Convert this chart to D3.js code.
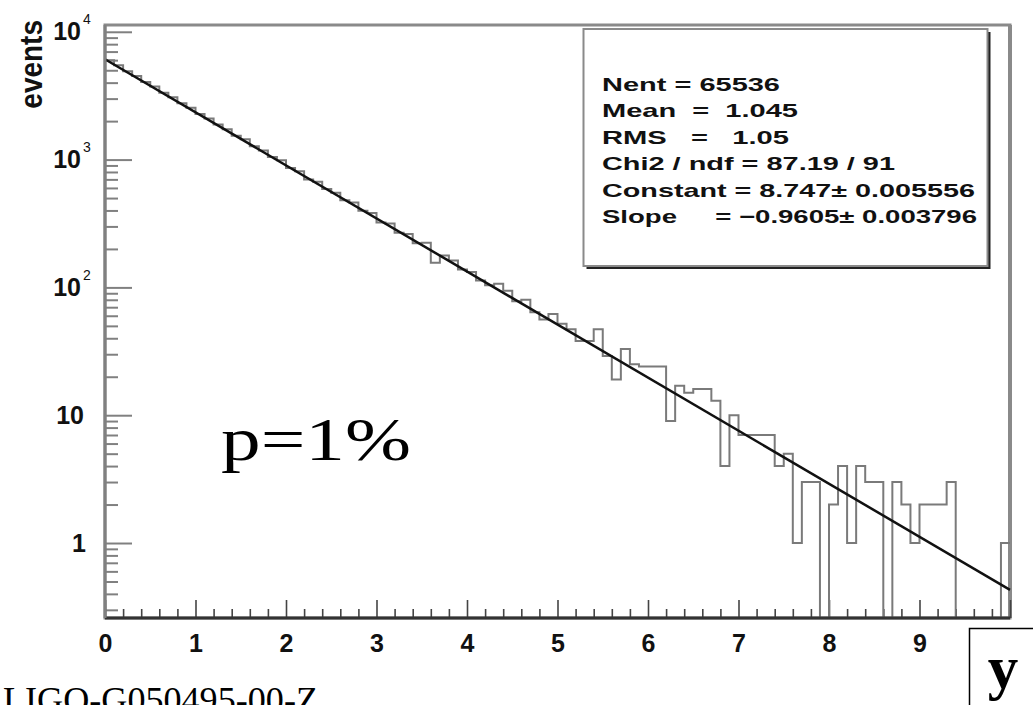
<!DOCTYPE html>
<html>
<head>
<meta charset="utf-8">
<script src="https://cdn.jsdelivr.net/npm/d3@7"></script>
<style>
  html, body { margin: 0; padding: 0; background: #fff; overflow: hidden; }
  svg { display: block; }
  text { white-space: pre; }
</style>
</head>
<body>
<svg id="chart" width="1033" height="705"></svg>
<script>

// histogram: 100 bins of width 0.1 between 0 and 10
var binWidth = 0.1
var counts = [
  5980, 5470, 4920, 4510, 4050, 3730, 3340, 3080, 2760, 2540,
  2270, 2100, 1880, 1730, 1540, 1440, 1270, 1180, 1050, 990,
  860, 810, 700, 670, 590, 550, 480, 462, 398, 382,
  322, 316, 268, 262, 222, 224, 156, 178, 162, 138,
  132, 113, 104, 107, 94, 78, 80, 64, 56, 62,
  52, 47, 38, 38, 47, 29, 19, 33, 25, 24,
  24, 24, 9, 17, 15, 16, 16, 13, 4, 10,
  7, 7, 7, 7, 4, 5, 1, 3, 3, 0,
  2, 4, 1, 4, 3, 3, 0, 3, 2, 1,
  2, 2, 2, 3, 0, 0, 0, 0, 0, 1
]

// exponential fit, end points of the drawn line
var fitX = [0, 10]
var fitY = [6100, 0.43]

var xTicks = [0, 1, 2, 3, 4, 5, 6, 7, 8, 9, 10]
var xTickLabels = ['0', '1', '2', '3', '4', '5', '6', '7', '8', '9', '']
var yTicks = [1, 10, 100, 1000, 10000]
var yTickBase = ['1', '10', '10', '10', '10']
var yTickExp = ['', '', '2', '3', '4']

var yTitle = 'events'
var statsLines = [
  'Nent = 65536',
  'Mean  =  1.045',
  'RMS   =   1.05',
  'Chi2 / ndf = 87.19 / 91',
  'Constant = 8.747\u00b1 0.005556',
  'Slope     = \u22120.9605\u00b1 0.003796'
]
var noteText = 'p=1%'
var varLabel = 'y'
var docTag = 'LIGO-G050495-00-Z'


var sans = '"Liberation Sans", Arial, Helvetica, sans-serif'
var serif = '"Liberation Serif", "Times New Roman", serif'

var svg = d3.select('#chart')
var frame = {left: 105, right: 1010, top: 25, bottom: 618}

var x = d3.scaleLinear().domain([0, 10]).range([frame.left, frame.right])
var y = d3.scaleLog().domain([0.259, 11300]).range([frame.bottom, frame.top])

function yPos(v){
    return v > 0 ? y(v) : frame.bottom
}

// frame
svg.append('rect')
    .attr('x', frame.left).attr('y', frame.top)
    .attr('width', frame.right - frame.left)
    .attr('height', frame.bottom - frame.top)
    .attr('fill', 'white')
    .attr('stroke', '#8a8a8a')
    .attr('stroke-width', 3)
svg.append('line')
    .attr('x1', frame.right).attr('x2', frame.right)
    .attr('y1', frame.top).attr('y2', frame.bottom)
    .attr('stroke', '#8a8a8a').attr('stroke-width', 4)

// minor ticks on y (2..9 per decade)
var yMinor = []
;[0.1, 1, 10, 100, 1000].forEach(function(dec){
    for (var k = 2; k <= 9; k++){
        var v = dec * k
        if (v >= y.domain()[0] && v <= y.domain()[1]) yMinor.push(v)
    }
})

var gyMinor = svg.append('g')
    .attr('transform', 'translate(' + frame.left + ',0)')
    .call(d3.axisLeft(y).tickValues(yMinor).tickSize(-13).tickFormat(''))
gyMinor.select('.domain').remove()
gyMinor.selectAll('line').attr('stroke', '#808080').attr('stroke-width', 2)

var gy = svg.append('g')
    .attr('transform', 'translate(' + frame.left + ',0)')
    .call(d3.axisLeft(y).tickValues(yTicks).tickSize(-27).tickPadding(21)
        .tickFormat(function(d, i){ return yTickBase[i] }))
gy.select('.domain').remove()
gy.selectAll('line').attr('stroke', '#808080').attr('stroke-width', 2)
gy.selectAll('text')
    .attr('font-family', sans)
    .attr('font-weight', 'bold')
    .attr('font-size', 25)
    .attr('fill', '#111')
gy.selectAll('.tick').each(function(d, i){
    var t = d3.select(this)
    if (yTickExp[i]){
        t.select('text').attr('x', -24)
        t.append('text')
            .attr('x', -22).attr('y', -8)
            .attr('font-family', sans)
            .attr('font-size', 14)
            .attr('fill', '#111')
            .attr('text-anchor', 'start')
            .text(yTickExp[i])
    } else if (d === 1){
        t.select('text').attr('x', -19)
    }
})

// x axis ticks
var xMinor = []
for (var i = 0; i <= 50; i++){
    if (i % 5 !== 0) xMinor.push(i * 0.2)
}
var gxMinor = svg.append('g')
    .attr('transform', 'translate(0,' + frame.bottom + ')')
    .call(d3.axisBottom(x).tickValues(xMinor).tickSize(-9).tickFormat(''))
gxMinor.select('.domain').remove()
gxMinor.selectAll('line').attr('stroke', '#444').attr('stroke-width', 1.6)

var gx = svg.append('g')
    .attr('transform', 'translate(0,' + frame.bottom + ')')
    .call(d3.axisBottom(x).tickValues(xTicks).tickSize(-18).tickPadding(16)
        .tickFormat(function(d, i){ return xTickLabels[i] }))
gx.select('.domain').remove()
gx.selectAll('line').attr('stroke', '#444').attr('stroke-width', 1.6)
gx.selectAll('text')
    .attr('font-family', sans)
    .attr('font-weight', 'bold')
    .attr('font-size', 25)
    .attr('fill', '#111')

// histogram outline
var steps = counts.map(function(c, i){ return [i * binWidth, c] })
steps.push([counts.length * binWidth, counts[counts.length - 1]])

var stepLine = d3.line()
    .x(function(d){ return x(d[0]) })
    .y(function(d){ return yPos(d[1]) })
    .curve(d3.curveStepAfter)

svg.append('path')
    .datum(steps)
    .attr('d', stepLine)
    .attr('fill', 'none')
    .attr('stroke', '#7a7a7a')
    .attr('stroke-width', 2)

// fit
var fitPts = fitX.map(function(v, i){ return [v, fitY[i]] })
svg.append('path')
    .datum(fitPts)
    .attr('d', d3.line().x(function(d){ return x(d[0]) }).y(function(d){ return y(d[1]) }))
    .attr('fill', 'none')
    .attr('stroke', '#111')
    .attr('stroke-width', 2.5)

// bottom and left axis lines over the frame
svg.append('line')
    .attr('x1', frame.left).attr('x2', frame.right)
    .attr('y1', frame.bottom).attr('y2', frame.bottom)
    .attr('stroke', '#333').attr('stroke-width', 3)
svg.append('line')
    .attr('x1', frame.left).attr('x2', frame.left)
    .attr('y1', frame.top).attr('y2', frame.bottom)
    .attr('stroke', '#808080').attr('stroke-width', 3)

// y title
svg.append('text')
    .attr('transform', 'translate(42,20) scale(1.15,1) rotate(-90)')
    .attr('text-anchor', 'end')
    .attr('font-family', sans)
    .attr('font-weight', 'bold')
    .attr('font-size', 28)
    .attr('fill', '#111')
    .text(yTitle)

// stats box
var box = {x: 583.5, y: 29, w: 404, h: 237}
svg.append('rect')
    .attr('x', box.x + 3).attr('y', box.y + 3)
    .attr('width', box.w).attr('height', box.h)
    .attr('fill', '#222')
svg.append('rect')
    .attr('x', box.x).attr('y', box.y)
    .attr('width', box.w).attr('height', box.h)
    .attr('fill', 'white')
    .attr('stroke', '#8a8a8a')
    .attr('stroke-width', 2)

var statsWidths = [178, 196, 187, 293, 373, 375]
statsLines.forEach(function(s, i){
    svg.append('text')
        .attr('x', 602)
        .attr('y', 91 + i * 26.4)
        .attr('textLength', statsWidths[i])
        .attr('lengthAdjust', 'spacingAndGlyphs')
        .attr('font-family', sans)
        .attr('font-weight', 'bold')
        .attr('font-size', 19)
        .attr('fill', '#111')
        .text(s)
})

// annotation
svg.append('text')
    .attr('x', 221).attr('y', 460)
    .attr('textLength', 190)
    .attr('lengthAdjust', 'spacingAndGlyphs')
    .attr('font-family', serif)
    .attr('font-size', 62)
    .attr('fill', '#000')
    .text(noteText)

// variable box bottom right
svg.append('rect')
    .attr('x', 969.5).attr('y', 628.5)
    .attr('width', 80).attr('height', 90)
    .attr('fill', 'white')
    .attr('stroke', '#000')
    .attr('stroke-width', 1.5)
svg.append('text')
    .attr('x', 1003).attr('y', 688)
    .attr('text-anchor', 'middle')
    .attr('font-family', serif)
    .attr('font-weight', 'bold')
    .attr('font-size', 61)
    .attr('fill', '#000')
    .text(varLabel)

// document tag, cut off at the bottom
svg.append('text')
    .attr('x', 3).attr('y', 712)
    .attr('textLength', 315)
    .attr('lengthAdjust', 'spacingAndGlyphs')
    .attr('font-family', serif)
    .attr('font-size', 35)
    .attr('fill', '#000')
    .text(docTag)

</script>
</body>
</html>
